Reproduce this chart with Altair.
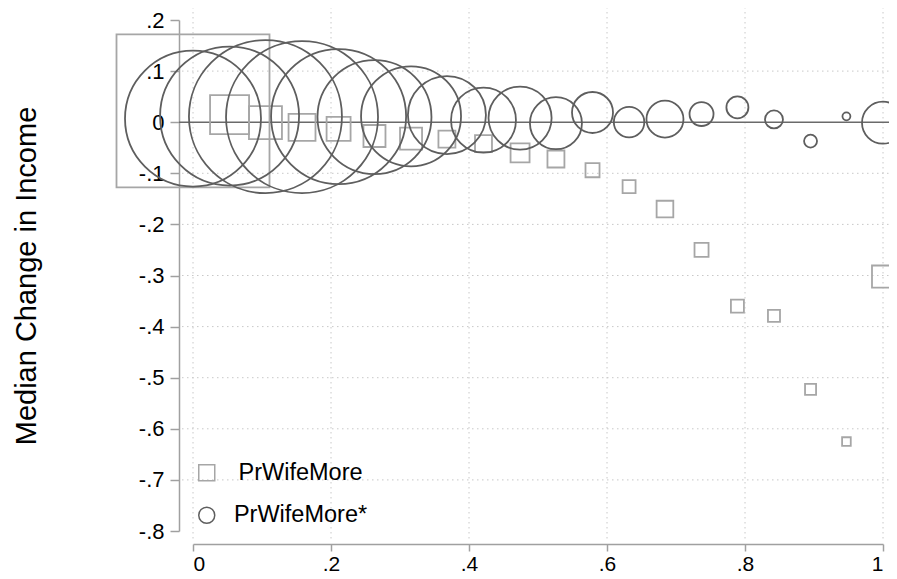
import altair as alt
import pandas as pd

# ---- data ----
bins = [0.0, 0.053, 0.105, 0.158, 0.211, 0.263, 0.316, 0.368, 0.421, 0.474,
        0.526, 0.579, 0.632, 0.684, 0.737, 0.789, 0.842, 0.895, 0.947, 1.0]

# PrWifeMore (squares)
sq_change = [0.022, 0.015, -0.001, -0.010, -0.013, -0.027, -0.032, -0.033, -0.042, -0.060,
             -0.072, -0.094, -0.126, -0.170, -0.250, -0.360, -0.379, -0.523, -0.625, -0.302]
sq_weight = [1000, 65, 46.5, 31, 24.6, 20.7, 20.7, 12.3, 12.3, 15.4,
             12.3, 8.4, 7.2, 11.9, 8.4, 7.2, 6.2, 5.2, 3.2, 20.7]

# PrWifeMore* (circles)
ci_change = [0.007, 0.012, 0.011, 0.010, 0.011, 0.010, 0.0115, 0.014, 0.004, 0.008,
             -0.002, 0.019, 0.000, 0.006, 0.016, 0.029, 0.0055, -0.037, 0.0115, -0.001]
ci_weight = [790, 825, 1000, 987, 779, 555, 427, 260, 180, 170,
             115.5, 71.8, 39.7, 58.5, 24.6, 20.7, 13.8, 7.2, 2.7, 75.4]

series = ["PrWifeMore", "PrWifeMore*"]
x_ticks = [0, 0.2, 0.4, 0.6, 0.8, 1.0]
y_ticks = [0.2, 0.1, 0.0, -0.1, -0.2, -0.3, -0.4, -0.5, -0.6, -0.7, -0.8]
y_grid = [0.1, -0.1, -0.2, -0.3, -0.4, -0.5, -0.6, -0.7]

W, H = 690, 511
FONT = "Liberation Sans"

sq_df = pd.DataFrame({"x": bins, "y": sq_change, "n": sq_weight, "series": series[0]})
ci_df = pd.DataFrame({"x": bins, "y": ci_change, "n": ci_weight, "series": series[1]})

xscale = alt.Scale(domain=[0, 1], nice=False, zero=False)
yscale = alt.Scale(domain=[-0.8, 0.2], nice=False, zero=False)
sscale = alt.Scale(type="linear", domain=[0, 1000], range=[0, 23409])
shape_scale = alt.Scale(domain=series, range=["square", "circle"])
stroke_scale = alt.Scale(domain=series, range=["#a6a6a6", "#5e5e5e"])

lbl_expr = ("datum.value == 0 ? '0' : (abs(datum.value - 1) < 1e-9 ? '1' : "
            "((datum.value < 0 ? '-' : '') + replace(format(abs(datum.value), '.1f'), '0.', '.')))")

xaxis = alt.Axis(values=x_ticks, labelExpr=lbl_expr, offset=13, tickSize=7, grid=False,
                 domainColor="#a0a0a0", tickColor="#a0a0a0", domainWidth=1.5, tickWidth=1.5,
                 labelFont=FONT, labelFontSize=21, labelColor="black", labelPadding=2,
                 title=None)
yaxis = alt.Axis(values=y_ticks, labelExpr=lbl_expr, offset=14, tickSize=9, grid=False,
                 domainColor="#a0a0a0", tickColor="#a0a0a0", domainWidth=1.5, tickWidth=1.5,
                 labelFont=FONT, labelFontSize=22, labelColor="black", labelPadding=6,
                 title="Median Change in Income", titleFont=FONT, titleFontSize=29,
                 titleFontWeight="normal", titleColor="black", titleAlign="center",
                 titleBaseline="middle", titleAngle=270, titleX=-153, titleY=H / 2)

vgrid = alt.Chart(pd.DataFrame({"x": x_ticks})).mark_rule(
    color="#c8c8c8", strokeWidth=1, strokeDash=[1.5, 3.5]
).encode(x=alt.X("x:Q", scale=xscale, axis=xaxis), y=alt.value(-13), y2=alt.value(H + 9))

hgrid = alt.Chart(pd.DataFrame({"y": y_grid})).mark_rule(
    color="#c8c8c8", strokeWidth=1, strokeDash=[1.5, 3.5]
).encode(y=alt.Y("y:Q", scale=yscale, axis=yaxis), x=alt.value(-11), x2=alt.value(W + 6))

zero = alt.Chart(pd.DataFrame({"y": [0.0]})).mark_rule(
    color="#6a6a6a", strokeWidth=1.5
).encode(y=alt.Y("y:Q", scale=yscale), x=alt.value(-14), x2=alt.value(W + 6))

legend = alt.Legend(title=None, orient="none", legendX=2, legendY=441, padding=0,
                    symbolSize=256, symbolStrokeWidth=1.5, symbolType="square",
                    labelFont=FONT, labelFontSize=23.5, labelColor="black", labelLimit=0,
                    labelAlign="center", labelOffset=82, rowPadding=17.5, symbolOffset=0)

def points(df):
    return alt.Chart(df).mark_point(filled=False, strokeWidth=1.8, opacity=1).encode(
        x=alt.X("x:Q", scale=xscale),
        y=alt.Y("y:Q", scale=yscale),
        size=alt.Size("n:Q", scale=sscale, legend=None),
        shape=alt.Shape("series:N", scale=shape_scale, legend=legend),
        stroke=alt.Stroke("series:N", scale=stroke_scale, legend=legend),
    )

chart = alt.layer(vgrid, hgrid, zero, points(sq_df), points(ci_df)).properties(
    width=W, height=H,
    padding={"left": 185, "top": 12, "right": 6, "bottom": 48},
    autosize=alt.AutoSizeParams(type="none"),
    background="white",
).configure_view(stroke=None)

chart.save("out.html", embed_options={"renderer": "svg", "actions": False})
